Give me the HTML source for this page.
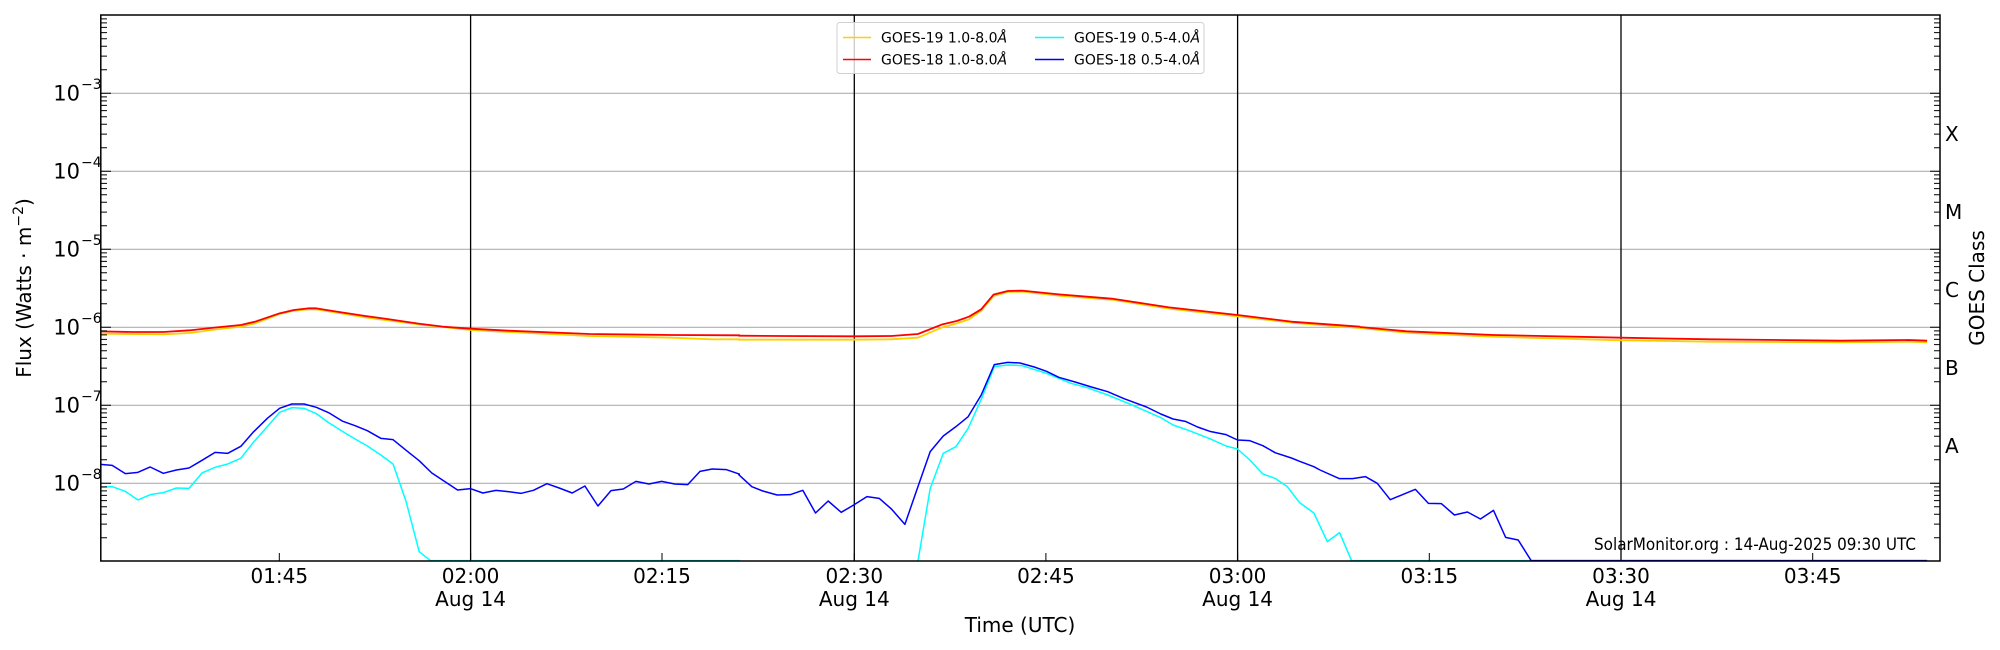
<!DOCTYPE html>
<html><head><meta charset="utf-8"><style>
html,body{margin:0;padding:0;background:#fff}
svg{display:block}
text{font-family:"DejaVu Sans","Liberation Sans",sans-serif;fill:#000}
</style></head><body>
<svg width="2000" height="650" viewBox="0 0 2000 650" xmlns="http://www.w3.org/2000/svg">
<defs><clipPath id="c"><rect x="100.8" y="15" width="1839.2" height="546"/></clipPath></defs>
<rect width="2000" height="650" fill="#fff"/>
<!-- grid -->
<g stroke="#b0b0b0" stroke-width="1.2">
<line x1="101" x2="1940" y1="93.3" y2="93.3"/><line x1="101" x2="1940" y1="171.3" y2="171.3"/>
<line x1="101" x2="1940" y1="249.3" y2="249.3"/><line x1="101" x2="1940" y1="327.3" y2="327.3"/>
<line x1="101" x2="1940" y1="405.3" y2="405.3"/><line x1="101" x2="1940" y1="483.3" y2="483.3"/>
</g>
<g stroke="#000" stroke-width="1.3">
<line x1="470.6" x2="470.6" y1="15" y2="561"/><line x1="854.3" x2="854.3" y1="15" y2="561"/>
<line x1="1237.6" x2="1237.6" y1="15" y2="561"/><line x1="1621" x2="1621" y1="15" y2="561"/>
</g>
<g clip-path="url(#c)" fill="none" stroke-linejoin="round">
<g transform="translate(100,290) scale(0.40816,0.33333)">
<polyline vector-effect="non-scaling-stroke" stroke="#00ffff" stroke-width="1.5" points="0,592 30,590 62,604 93,630 123,614 155,608 187,594 218,595 250,549 282,532 313,522 345,505 375,458 410,410 440,367 470,353 500,355 530,371 560,398 595,425 625,447 655,468 688,495 718,522 750,635 782,785 810,812 1568,812"/>
<polyline vector-effect="non-scaling-stroke" stroke="#0000ff" stroke-width="1.5" points="0,523 30,526 62,551 93,547 123,531 155,550 187,540 218,534 250,511 282,487 313,490 345,469 375,427 410,385 440,355 470,342 500,342 530,352 560,368 595,394 625,407 655,422 688,445 718,449 750,481 782,512 813,549 845,575 876,600 908,596 938,609 970,601 1000,605 1032,610 1062,601 1095,581 1125,594 1157,609 1188,588 1220,648 1252,602 1282,597 1313,574 1345,582 1376,574 1408,582 1440,584 1470,544 1500,537 1535,539 1568,553"/>
<polyline vector-effect="non-scaling-stroke" stroke="#ffd000" stroke-width="1.8" points="0,131 155,133 220,129 280,119 345,110 380,100 440,72 475,62 510,58 530,58 580,68 650,82 710,92 780,103 840,111 908,120 1000,126 1200,138 1400,143 1500,148 1568,148"/>
<polyline vector-effect="non-scaling-stroke" stroke="#ff0000" stroke-width="1.8" points="0,124 78,126 155,126 220,121 280,113 345,105 380,95 440,70 475,60 510,55 530,55 580,65 650,78 710,88 780,101 840,110 908,116 1000,122 1200,132 1400,135 1568,136"/>
</g>
<g transform="translate(720,270) scale(0.40816,0.33333)">
<polyline vector-effect="non-scaling-stroke" stroke="#00ffff" stroke-width="1.5" points="0,874 485,874 515,655 547,550 578,530 608,475 640,388 672,290 705,285 740,287 800,310 830,325 860,340 900,353 950,375 1000,400 1045,424 1080,443 1110,465 1150,482 1200,506 1240,528 1268,537 1298,570 1330,612 1360,625 1390,650 1420,698 1455,729 1488,815 1518,788 1548,874 1568,874"/>
<polyline vector-effect="non-scaling-stroke" stroke="#0000ff" stroke-width="1.5" points="45,613 78,650 105,663 140,675 172,674 203,661 234,729 265,693 297,727 329,704 360,680 390,685 420,717 453,763 485,650 515,545 547,498 578,470 608,440 640,375 672,284 705,277 735,279 770,291 800,304 830,322 870,336 910,351 950,365 990,386 1045,411 1080,432 1110,447 1140,454 1170,471 1200,484 1240,494 1268,510 1298,512 1330,527 1360,548 1400,564 1420,574 1455,590 1470,600"/>
<polyline vector-effect="non-scaling-stroke" stroke="#ffd000" stroke-width="1.8" points="45,209 329,209 420,208 485,203 545,172 580,160 610,148 640,122 670,78 705,66 740,65 830,77 960,89 1100,116 1268,139 1400,158 1568,174"/>
<polyline vector-effect="non-scaling-stroke" stroke="#ff0000" stroke-width="1.8" points="45,197 150,198 329,199 420,198 485,192 545,163 580,153 610,140 640,118 670,74 705,63 740,62 830,73 960,86 1100,112 1268,135 1400,155 1568,170"/>
</g>
<g transform="translate(1320,290) scale(0.43365,0.33333)">
<polyline vector-effect="non-scaling-stroke" stroke="#00ffff" stroke-width="1.5" points="75,812 1400,812"/>
<polyline vector-effect="non-scaling-stroke" stroke="#0000ff" stroke-width="1.5" points="0,540 45,566 75,566 105,560 132,580 162,629 190,614 220,598 250,640 280,641 310,675 340,666 370,687 400,661 428,742 457,750 487,812 1400,812"/>
<polyline vector-effect="non-scaling-stroke" stroke="#ffd000" stroke-width="1.8" points="92,114 200,128 400,140 694,151 900,155 1200,157 1360,155 1400,157"/>
<polyline vector-effect="non-scaling-stroke" stroke="#ff0000" stroke-width="1.8" points="92,111 200,124 400,135 694,143 900,148 1200,152 1360,150 1400,152"/>
</g>
</g>
<!-- ticks -->
<g stroke="#000" stroke-width="1">
<path id="lt" d="M101,93.3h10M101,171.3h10M101,249.3h10M101,327.3h10M101,405.3h10M101,483.3h10
M101,69.8h6M101,56.1h6M101,46.3h6M101,38.8h6M101,32.6h6M101,27.4h6M101,22.9h6M101,18.9h6
M101,147.8h6M101,134.1h6M101,124.3h6M101,116.8h6M101,110.6h6M101,105.4h6M101,100.9h6M101,96.9h6
M101,225.8h6M101,212.1h6M101,202.3h6M101,194.8h6M101,188.6h6M101,183.4h6M101,178.9h6M101,174.9h6
M101,303.8h6M101,290.1h6M101,280.3h6M101,272.8h6M101,266.6h6M101,261.4h6M101,256.9h6M101,252.9h6
M101,381.8h6M101,368.1h6M101,358.3h6M101,350.8h6M101,344.6h6M101,339.4h6M101,334.9h6M101,330.9h6
M101,459.8h6M101,446.1h6M101,436.3h6M101,428.8h6M101,422.6h6M101,417.4h6M101,412.9h6M101,408.9h6
M101,537.8h6M101,524.1h6M101,514.3h6M101,506.8h6M101,500.6h6M101,495.4h6M101,490.9h6M101,486.9h6"/>
<use href="#lt" transform="translate(2041,0) scale(-1,1)"/>
<path d="M279.3,561v-8M470.6,561v-8M662,561v-8M854.3,561v-8M1045.9,561v-8M1237.6,561v-8M1429.3,561v-8M1621,561v-8M1812.7,561v-8"/>
</g>
<rect x="100.8" y="15" width="1839.2" height="546" fill="none" stroke="#000" stroke-width="1.5"/>
<!-- y labels -->
<g font-size="21" text-anchor="end">
<text x="80" y="100.5">10</text><text x="80" y="178.5">10</text><text x="80" y="256.5">10</text>
<text x="80" y="334.5">10</text><text x="80" y="412.5">10</text><text x="80" y="490.5">10</text>
</g>
<g font-size="14">
<text x="81" y="89">−3</text><text x="81" y="167">−4</text><text x="81" y="245">−5</text>
<text x="81" y="323">−6</text><text x="81" y="401">−7</text><text x="81" y="479">−8</text>
</g>
<text transform="translate(31,288) rotate(-90)" font-size="20" text-anchor="middle">Flux (Watts · m<tspan font-size="14" dy="-8">−2</tspan><tspan dy="8">)</tspan></text>
<!-- right labels -->
<g font-size="20">
<text x="1945" y="141">X</text><text x="1945" y="219">M</text><text x="1945" y="297">C</text>
<text x="1945" y="375">B</text><text x="1945" y="453">A</text>
</g>
<text transform="translate(1984,288) rotate(-90)" font-size="20" text-anchor="middle">GOES Class</text>
<!-- x labels -->
<g font-size="20" text-anchor="middle">
<text x="279.3" y="583">01:45</text><text x="470.6" y="583">02:00</text><text x="470.6" y="606">Aug 14</text>
<text x="662" y="583">02:15</text><text x="854.3" y="583">02:30</text><text x="854.3" y="606">Aug 14</text>
<text x="1045.9" y="583">02:45</text><text x="1237.6" y="583">03:00</text><text x="1237.6" y="606">Aug 14</text>
<text x="1429.3" y="583">03:15</text><text x="1621" y="583">03:30</text><text x="1621" y="606">Aug 14</text>
<text x="1812.7" y="583">03:45</text>
<text x="1020" y="632">Time (UTC)</text>
</g>
<text x="1916" y="550" font-size="17" text-anchor="end" textLength="322" lengthAdjust="spacingAndGlyphs">SolarMonitor.org : 14-Aug-2025 09:30 UTC</text>
<!-- legend -->
<rect x="837" y="22.5" width="367" height="51" rx="3" fill="#fff" fill-opacity="0.8" stroke="#d0d0d0"/>
<g stroke-width="1.5">
<line x1="843" x2="871" y1="37.5" y2="37.5" stroke="#ffd000"/>
<line x1="843" x2="871" y1="59.5" y2="59.5" stroke="#ff0000"/>
<line x1="1035" x2="1064" y1="37.5" y2="37.5" stroke="#00ffff"/>
<line x1="1035" x2="1064" y1="59.5" y2="59.5" stroke="#0000ff"/>
</g>
<g font-size="14">
<text x="881" y="42.5">GOES-19 1.0-8.0<tspan font-style="italic">Å</tspan></text>
<text x="881" y="64.5">GOES-18 1.0-8.0<tspan font-style="italic">Å</tspan></text>
<text x="1074" y="42.5">GOES-19 0.5-4.0<tspan font-style="italic">Å</tspan></text>
<text x="1074" y="64.5">GOES-18 0.5-4.0<tspan font-style="italic">Å</tspan></text>
</g>
</svg>
</body></html>
